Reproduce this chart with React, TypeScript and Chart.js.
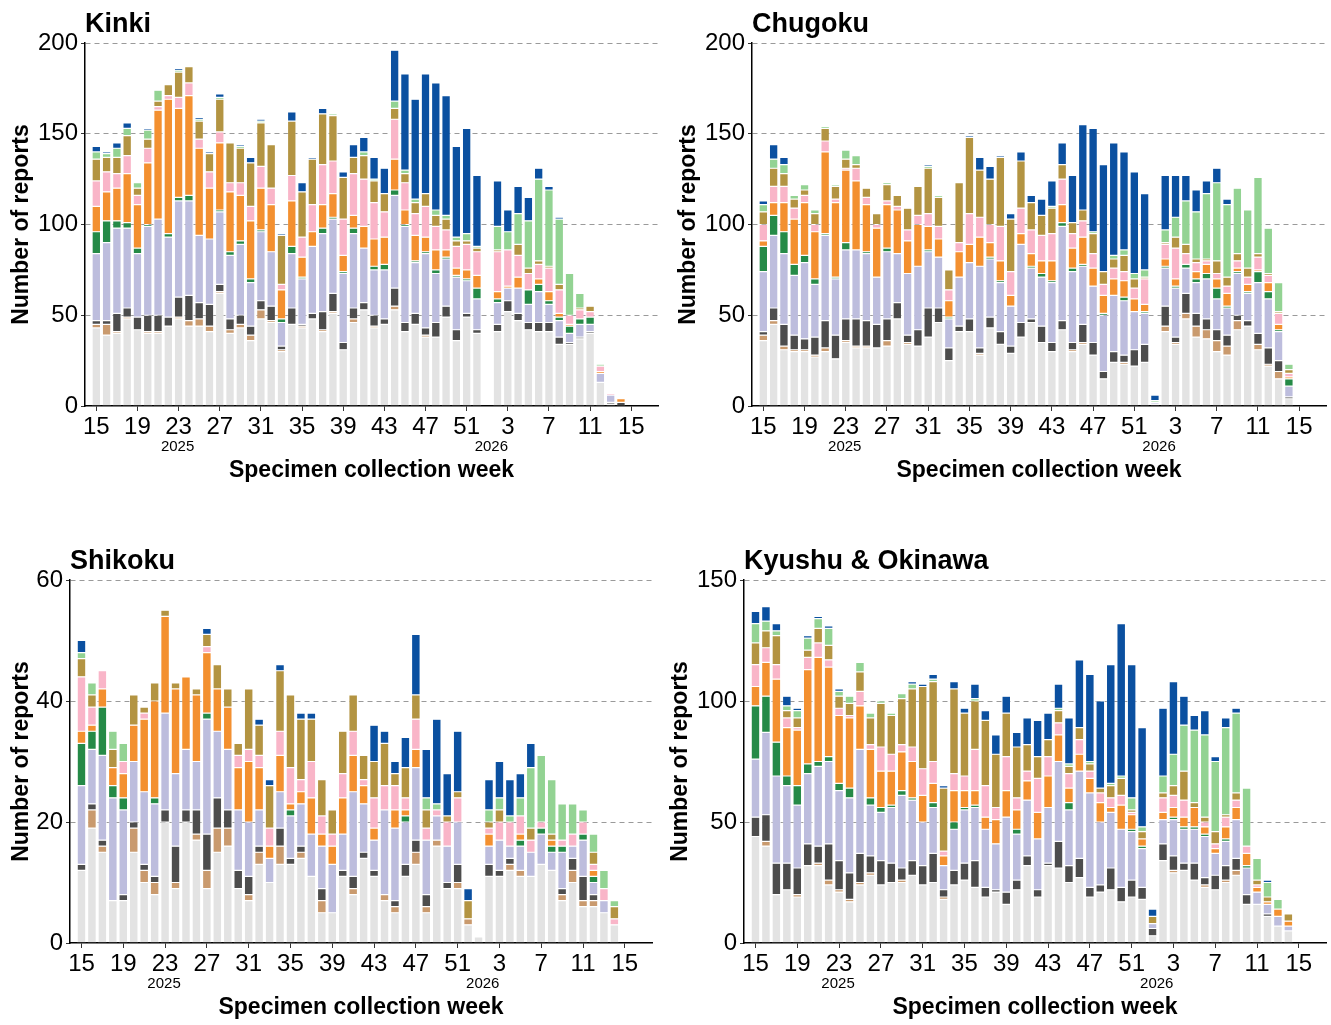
import React, { useEffect, useRef } from "react";
import { Chart, registerables } from "chart.js";

Chart.register(...registerables);

const FONT = "'Liberation Sans', Arial, Helvetica, sans-serif";

// Specimen collection weeks: 2025 W15 … W52, then 2026 W1 … W15
const weekLabels = [
  "15", "16", "17", "18", "19", "20", "21", "22", "23", "24", "25", "26", "27", "28", "29", "30", "31", "32", "33",
  "34", "35", "36", "37", "38", "39", "40", "41", "42", "43", "44", "45", "46", "47", "48", "49", "50", "51", "52",
  "1", "2", "3", "4", "5", "6", "7", "8", "9", "10", "11", "12", "13", "14", "15",
];
const tickIndices = [0, 4, 8, 12, 16, 20, 24, 28, 32, 36, 40, 44, 48, 52];
const yearLabels = [
  { text: "2025", at: 7.9 },
  { text: "2026", at: 38.4 },
];

const seriesNames = ["Group 1", "Group 2", "Group 3", "Group 4", "Group 5", "Group 6", "Group 7", "Group 8", "Group 9", "Group 10"];
const seriesColors = ["#e3e3e3", "#c99a6e", "#4d4d4d", "#bdbddd", "#258a47", "#f39030", "#f9b5c8", "#b39442", "#93d393", "#0b50a0"];

// ---- Kinki ----
const kinkiGrey = [43,39,40,48,42,40,40,44,48,44,44,41,62,40,43,36,48,46,30,45,43,48,41,51,31,46,53,43,45,53,41,45,38,38,49,36,49,40,0,41,52,47,42,41,41,34,34,37,40,13,1,0,0];
const kinkiTan = [2,6,1,1,0,1,1,0,1,3,4,3,1,2,2,3,5,1,1,0,1,0,1,1,0,2,0,1,0,2,0,0,1,0,0,0,0,0,0,0,0,0,0,0,0,0,0,0,0,0,0,0,0];
const kinkiCharcoal = [2,2,10,5,7,9,9,5,11,14,9,12,4,6,5,5,5,8,2,9,1,3,10,10,4,6,4,6,3,10,5,6,4,8,6,6,2,2,0,4,6,4,4,5,5,4,1,1,1,0,1,2,0];
const kinkiLavender = [37,43,47,44,35,49,53,44,53,52,37,36,40,35,39,24,38,30,13,30,25,37,43,41,38,41,30,25,27,51,53,28,41,27,26,29,18,17,0,12,7,14,10,17,10,9,5,7,4,5,4,0,0];
const kinkiGreen = [12,12,4,3,3,1,0,2,2,3,0,0,1,2,2,2,1,0,2,4,1,0,3,1,1,3,0,2,3,3,1,1,1,2,1,1,1,6,0,2,0,0,8,4,2,2,4,3,4,0,0,0,0];
const kinkiOrange = [14,16,18,27,24,34,60,74,49,55,48,28,37,33,25,32,23,26,16,25,11,8,13,13,9,7,12,15,15,17,8,14,8,11,4,4,5,7,0,4,1,6,0,3,5,2,1,0,0,1,0,2,0];
const kinkiPink = [14,11,8,10,5,8,2,2,6,7,5,9,6,5,7,8,12,9,3,14,11,15,22,18,20,23,26,20,14,22,15,12,17,13,11,12,14,13,0,22,20,12,9,8,13,13,5,5,3,3,1,0,0];
const kinkiOlive = [12,8,9,11,4,5,3,6,14,9,10,10,18,22,19,24,24,24,27,30,25,25,28,25,23,9,13,12,10,6,5,6,7,6,6,3,2,2,0,1,0,6,3,2,1,3,0,1,3,0,0,0,0];
const kinkiMint = [4,2,5,4,3,5,6,0,1,0,1,0,1,0,1,0,1,0,0,0,0,0,0,1,0,0,2,1,0,4,2,2,0,3,2,2,4,1,0,13,10,17,26,45,42,36,23,8,0,1,0,0,0];
const kinkiBlue = [3,1,3,3,0,1,0,0,1,0,1,1,2,0,1,3,1,0,1,5,5,1,3,0,3,7,8,12,14,28,53,55,66,70,66,50,58,39,0,25,12,15,13,6,2,1,0,0,0,0,0,0,0];

// ---- Chugoku ----
const chugokuGrey = [36,45,31,30,30,27,30,26,35,32,32,32,33,48,34,33,38,46,25,41,41,28,43,34,29,38,46,35,30,42,30,34,28,15,24,23,22,24,1,41,34,48,38,37,30,28,42,44,31,22,15,4,0];
const chugokuTan = [3,2,2,1,1,1,2,0,1,1,1,0,3,0,1,0,0,0,0,0,0,1,0,0,0,0,0,0,0,0,1,1,0,0,0,1,0,0,0,3,1,3,6,5,6,5,5,0,3,1,4,0,0];
const chugokuCharcoal = [2,7,12,8,6,10,15,13,12,15,14,13,12,9,4,9,16,8,7,3,7,3,6,7,4,8,2,9,5,5,4,10,7,4,6,4,9,10,0,11,3,11,7,6,6,6,3,3,6,9,6,1,0];
const chugokuLavender = [33,40,39,33,42,29,47,31,38,38,37,26,37,27,34,35,31,28,16,27,31,45,32,27,22,43,28,27,33,52,39,32,31,31,31,30,21,17,1,21,27,14,17,22,17,15,23,15,28,27,16,6,0];
const chugokuGreen = [14,11,12,6,4,3,1,1,4,0,1,0,2,0,0,0,1,0,1,0,0,0,1,1,0,0,1,2,1,2,2,1,0,1,0,2,0,1,0,1,1,2,2,3,6,1,1,1,6,4,1,4,0];
const chugokuOrange = [3,7,16,25,29,26,45,41,40,38,26,27,24,24,18,23,13,10,9,14,10,16,8,11,6,6,7,7,11,10,11,15,10,10,9,9,7,4,0,4,4,0,4,5,5,7,2,4,1,5,3,1,0];
const chugokuPink = [9,9,9,6,4,4,6,2,1,7,4,2,2,2,6,5,7,7,6,5,17,11,10,19,13,14,13,14,15,14,8,9,8,6,6,5,6,14,0,8,17,6,5,2,3,4,4,4,7,4,6,2,0];
const chugokuOlive = [7,10,7,5,3,6,7,7,5,2,5,6,9,6,12,16,25,16,11,33,42,26,25,38,29,26,15,11,14,8,6,6,11,7,5,9,5,1,0,1,6,5,2,1,7,5,4,5,2,1,1,2,0];
const chugokuMint = [4,5,5,2,3,2,1,1,5,5,0,0,1,0,0,0,1,1,0,0,0,0,0,0,0,0,0,0,1,0,0,0,1,0,2,3,3,4,1,7,11,24,26,36,43,40,36,32,42,25,16,3,0];
const chugokuBlue = [2,8,4,0,0,0,0,0,0,0,0,0,0,0,0,0,1,0,0,0,1,7,7,1,3,5,4,9,14,12,26,47,57,59,62,54,56,42,3,30,23,14,12,7,8,3,0,0,0,0,0,0,0];

// ---- Shikoku ----
const shikokuGrey = [12,19,15,7,7,15,10,8,20,9,20,17,9,15,16,9,7,13,10,13,13,14,11,5,5,11,8,14,11,7,5,11,13,5,16,9,9,3,1,11,11,12,11,11,13,12,7,10,6,6,5,3,0];
const shikokuTan = [0,3,1,0,0,4,2,2,0,1,0,1,3,4,3,0,1,2,0,3,0,1,0,2,0,0,1,0,0,1,1,0,2,1,1,0,1,1,0,0,0,1,1,0,0,0,1,2,1,1,0,0,0];
const shikokuCharcoal = [1,1,1,0,1,1,1,1,2,6,2,4,6,5,3,3,3,1,0,3,1,1,0,2,0,1,2,1,1,0,1,2,2,2,0,1,3,0,0,2,1,1,0,0,0,0,1,2,4,1,0,0,0];
const shikokuLavender = [13,9,14,17,14,10,12,12,16,12,10,8,19,11,10,10,9,6,4,6,7,7,7,7,8,6,14,8,5,14,12,7,12,9,4,6,7,0,0,3,5,2,4,4,5,3,6,2,6,2,2,0,0];
const shikokuGreen = [7,3,8,2,2,0,0,1,0,0,0,0,1,0,0,0,0,0,0,0,1,0,0,0,0,0,0,0,0,0,0,1,0,0,0,0,0,0,0,0,0,0,1,0,1,1,1,0,1,1,0,0,0];
const shikokuOrange = [2,1,3,3,4,6,12,16,16,14,12,11,10,7,7,7,10,7,2,6,1,2,6,2,3,6,6,3,2,0,3,1,3,0,0,0,0,0,0,2,0,0,1,0,0,1,0,0,0,1,0,0,0];
const shikokuPink = [9,3,3,0,2,0,1,0,0,0,0,0,1,0,0,2,2,2,3,4,6,2,6,3,2,4,4,1,5,4,4,2,5,2,1,4,4,0,0,1,3,4,3,2,1,0,1,2,2,1,2,1,0];
const shikokuOlive = [3,2,0,3,0,5,1,3,1,1,0,1,2,4,3,2,10,5,7,10,12,10,7,6,4,7,6,4,6,7,2,5,4,3,0,1,1,3,0,1,2,0,0,2,0,1,0,0,0,2,0,2,0];
const shikokuMint = [1,2,0,3,3,0,0,0,0,0,0,0,0,0,0,0,0,0,0,0,0,0,0,0,0,0,0,0,0,0,0,0,0,2,1,0,0,0,0,2,2,1,3,10,11,9,6,5,2,3,3,1,0];
const shikokuBlue = [2,0,0,0,0,0,0,0,0,0,0,0,1,0,0,0,0,1,1,1,0,1,1,0,0,0,0,0,6,2,2,5,10,8,14,7,10,2,0,5,6,6,4,4,0,0,0,0,0,0,0,0,0];

// ---- Kyushu & Okinawa ----
const kyushuGrey = [44,40,20,22,19,32,32,24,21,17,24,28,24,25,25,28,24,25,18,24,26,23,19,21,16,22,32,19,32,31,25,27,19,21,22,17,19,18,3,34,29,30,26,23,22,25,28,16,16,11,7,5,0];
const kyushuTan = [0,2,0,0,1,0,1,2,1,1,1,1,0,0,1,0,0,0,1,0,0,0,0,0,0,0,0,0,0,0,0,0,0,0,0,0,0,0,0,0,1,0,0,1,0,1,2,0,0,0,0,0,0];
const kyushuCharcoal = [8,11,13,11,11,9,7,15,12,11,12,7,10,8,5,6,8,12,3,6,7,11,4,1,5,4,4,3,1,11,7,8,4,3,9,6,7,5,3,7,6,3,7,3,6,6,5,4,0,1,0,0,0];
const kyushuLavender = [24,34,36,32,26,29,33,34,29,31,43,21,20,23,30,25,18,19,10,17,22,22,24,19,31,19,23,21,23,33,23,36,39,26,23,24,20,16,2,10,15,14,14,17,9,10,16,11,5,4,4,2,0];
const kyushuGreen = [22,15,14,4,8,4,2,2,3,4,0,3,2,1,2,1,0,2,0,3,1,1,0,0,0,2,0,0,0,0,3,0,0,0,0,0,1,1,0,0,1,1,1,1,0,1,0,1,0,0,0,0,0];
const kyushuOrange = [8,14,26,20,23,39,43,37,28,29,18,20,15,14,16,15,11,8,4,13,7,6,5,10,11,8,8,11,13,11,6,7,6,8,2,10,6,3,0,3,4,4,8,3,2,5,5,5,2,1,3,2,0];
const kyushuPink = [9,6,6,4,1,5,6,3,3,1,6,2,10,7,3,6,11,9,2,7,6,17,13,5,14,5,4,14,8,5,6,6,3,4,4,4,1,0,0,6,5,7,0,2,2,4,3,3,1,0,0,0,0];
const kyushuOlive = [9,7,12,3,4,3,6,6,5,5,8,11,18,16,19,24,34,33,26,35,26,20,27,22,18,21,11,9,7,5,3,5,3,2,5,7,1,3,3,2,4,12,2,2,5,1,3,0,2,2,0,3,0];
const kyushuMint = [8,4,2,2,3,5,4,7,2,3,4,2,1,1,2,2,0,1,0,0,0,1,0,0,0,0,0,0,0,1,1,0,1,0,1,1,5,2,0,7,13,19,30,34,29,36,33,24,9,6,4,0,0];
const kyushuBlue = [5,6,3,4,1,1,1,1,1,0,0,0,0,0,0,1,1,2,1,3,2,6,4,8,7,6,11,15,11,10,19,28,36,36,49,63,55,41,3,28,30,12,6,10,2,4,2,0,0,1,0,0,0];

type Area = { l: number; t: number; r: number; b: number };
type PanelSpec = {
  title: string;
  series: number[][];
  yMax: number;
  yStep: number;
  left: number;
  top: number;
  width: number;
  height: number;
  area: Area;
  yTitleX: number;
};

const panels: PanelSpec[] = [
  {
    title: "Kinki",
    series: [kinkiGrey, kinkiTan, kinkiCharcoal, kinkiLavender, kinkiGreen, kinkiOrange, kinkiPink, kinkiOlive, kinkiMint, kinkiBlue],
    yMax: 200, yStep: 50,
    left: 0, top: 0, width: 666, height: 512,
    area: { l: 85, t: 43, r: 658, b: 406 },
    yTitleX: 22,
  },
  {
    title: "Chugoku",
    series: [chugokuGrey, chugokuTan, chugokuCharcoal, chugokuLavender, chugokuGreen, chugokuOrange, chugokuPink, chugokuOlive, chugokuMint, chugokuBlue],
    yMax: 200, yStep: 50,
    left: 666, top: 0, width: 665, height: 512,
    area: { l: 86, t: 43, r: 660, b: 406 },
    yTitleX: 23,
  },
  {
    title: "Shikoku",
    series: [shikokuGrey, shikokuTan, shikokuCharcoal, shikokuLavender, shikokuGreen, shikokuOrange, shikokuPink, shikokuOlive, shikokuMint, shikokuBlue],
    yMax: 60, yStep: 20,
    left: 0, top: 512, width: 666, height: 513,
    area: { l: 70, t: 68, r: 652, b: 431 },
    yTitleX: 22,
  },
  {
    title: "Kyushu & Okinawa",
    series: [kyushuGrey, kyushuTan, kyushuCharcoal, kyushuLavender, kyushuGreen, kyushuOrange, kyushuPink, kyushuOlive, kyushuMint, kyushuBlue],
    yMax: 150, yStep: 50,
    left: 666, top: 512, width: 665, height: 513,
    area: { l: 78, t: 68, r: 660, b: 431 },
    yTitleX: 15,
  },
];

function Panel({ spec }: { spec: PanelSpec }) {
  const ref = useRef<HTMLCanvasElement | null>(null);

  useEffect(() => {
    const canvas = ref.current;
    if (!canvas) return;

    const datasets = seriesNames.map((name, k) => ({
      label: name,
      data: spec.series[k].map((v, i) => ({ x: i, y: v === 0 ? null : v })),
      backgroundColor: seriesColors[k],
      borderColor: "rgba(255,255,255,0.55)",
      borderWidth: 0.6,
      borderSkipped: false as const,
      barPercentage: 0.83,
      categoryPercentage: 1,
    }));

    const decor = {
      id: "decor",
      afterDraw(chart: any) {
        const { ctx, chartArea } = chart;
        const xs = chart.scales.x;
        ctx.save();
        ctx.fillStyle = "#000";
        // panel title
        ctx.font = `bold 27px ${FONT}`;
        ctx.textAlign = "left";
        ctx.textBaseline = "alphabetic";
        ctx.fillText(spec.title, chartArea.left, chartArea.top - 11);
        // year labels
        ctx.font = `15px ${FONT}`;
        ctx.textAlign = "center";
        ctx.textBaseline = "middle";
        yearLabels.forEach((y) => {
          ctx.fillText(y.text, xs.getPixelForValue(y.at), chartArea.bottom + 41);
        });
        // x axis title
        ctx.font = `bold 23px ${FONT}`;
        ctx.fillText("Specimen collection week", (chartArea.left + chartArea.right) / 2, chartArea.bottom + 65);
        // y axis title
        ctx.translate(spec.yTitleX, (chartArea.top + chartArea.bottom) / 2);
        ctx.rotate(-Math.PI / 2);
        ctx.fillText("Number of reports", 0, 0);
        ctx.restore();
      },
    };

    const chart = new Chart(canvas, {
      type: "bar",
      data: { datasets },
      plugins: [decor],
      options: {
        responsive: false,
        animation: false,
        devicePixelRatio: 1,
        layout: {
          padding: { left: 0, right: spec.width - spec.area.r, top: spec.area.t, bottom: 0 },
        },
        plugins: {
          legend: { display: false },
          tooltip: { enabled: false },
          title: { display: false },
        },
        scales: {
          x: {
            type: "linear",
            stacked: true,
            offset: false,
            min: -1.1,
            max: 54.6,
            afterBuildTicks: (s: any) => {
              s.ticks = tickIndices.map((v) => ({ value: v }));
            },
            afterFit: (s: any) => {
              s.height = spec.height - spec.area.b;
            },
            ticks: {
              autoSkip: false,
              maxRotation: 0,
              minRotation: 0,
              includeBounds: false,
              color: "#000",
              padding: 2,
              font: { family: FONT, size: 24 },
              callback: (v: any) => weekLabels[v as number] ?? "",
            },
            grid: {
              display: true,
              offset: false,
              drawOnChartArea: false,
              drawTicks: true,
              tickLength: 5,
              tickColor: "#333",
              tickWidth: 1,
            },
            border: { display: true, color: "#000", width: 1.5 },
          },
          y: {
            stacked: true,
            min: 0,
            max: spec.yMax,
            afterFit: (s: any) => {
              s.width = spec.area.l;
            },
            ticks: {
              stepSize: spec.yStep,
              color: "#000",
              padding: 3,
              font: { family: FONT, size: 24 },
            },
            grid: {
              display: true,
              color: (c: any) => (c.tick && c.tick.value === 0 ? "rgba(0,0,0,0)" : "#9a9a9a"),
              lineWidth: 1,
              drawTicks: true,
              tickLength: 4,
              tickColor: "#333",
            },
            border: { display: true, color: "#000", width: 1.5, dash: [5, 4] },
          },
        },
      } as any,
    });

    return () => {
      chart.destroy();
    };
  }, [spec]);

  return (
    <canvas
      ref={ref}
      width={spec.width}
      height={spec.height}
      style={{ position: "absolute", left: spec.left, top: spec.top, width: spec.width, height: spec.height }}
    />
  );
}

export default function App() {
  return (
    <div style={{ position: "absolute", left: 0, top: 0, width: 1331, height: 1025, background: "#fff" }}>
      {panels.map((p) => (
        <Panel key={p.title} spec={p} />
      ))}
    </div>
  );
}
